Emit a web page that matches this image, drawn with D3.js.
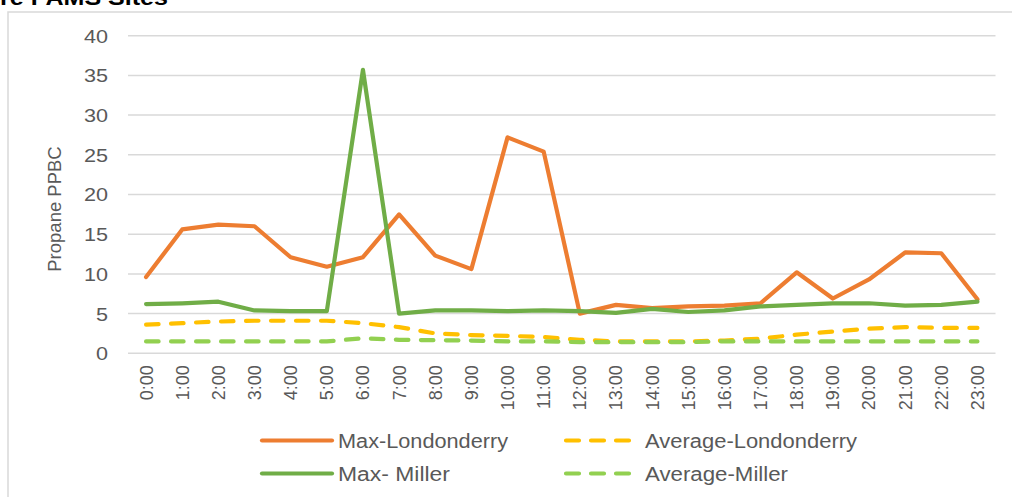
<!DOCTYPE html>
<html>
<head>
<meta charset="utf-8">
<script src="https://cdn.jsdelivr.net/npm/d3@7"></script>
<style>
  html, body { margin: 0; padding: 0; background: #fff; }
  svg { display: block; }
  text { font-family: "Liberation Sans", Arial, sans-serif; }
</style>
</head>
<body>
<svg id="chart" width="1012" height="497"></svg>
<script>
const hours = ["0:00","1:00","2:00","3:00","4:00","5:00","6:00","7:00","8:00","9:00","10:00","11:00",
               "12:00","13:00","14:00","15:00","16:00","17:00","18:00","19:00","20:00","21:00","22:00","23:00"];
const maxLondonderry = [9.6,15.6,16.2,16.0,12.1,10.9,12.1,17.5,12.3,10.6,27.2,25.4,5.0,6.1,5.7,5.9,6.0,6.3,10.2,6.9,9.3,12.7,12.6,6.8];
const avgLondonderry = [3.6,3.8,4.0,4.1,4.1,4.1,3.8,3.3,2.5,2.3,2.2,2.05,1.7,1.5,1.5,1.5,1.6,1.85,2.35,2.75,3.1,3.3,3.2,3.2];
const maxMiller = [6.2,6.3,6.5,5.4,5.3,5.3,35.7,5.0,5.4,5.4,5.3,5.4,5.3,5.1,5.6,5.2,5.4,5.9,6.1,6.3,6.3,6.0,6.1,6.5];
const avgMiller = [1.5,1.5,1.5,1.5,1.5,1.5,1.9,1.7,1.65,1.6,1.5,1.5,1.4,1.4,1.4,1.4,1.5,1.5,1.5,1.5,1.5,1.5,1.5,1.5];
const yTicks = [0,5,10,15,20,25,30,35,40];
const seriesNames = ["Max-Londonderry","Average-Londonderry","Max- Miller","Average-Miller"];
const titleText = "re PAMS Sites";
const yTitle = "Propane PPBC";

const series = [
  {name: seriesNames[0], values: maxLondonderry, color: "#ED7D31", dash: null},
  {name: seriesNames[1], values: avgLondonderry, color: "#FFC000", dash: "12.5,12.5"},
  {name: seriesNames[2], values: maxMiller, color: "#70AD47", dash: null},
  {name: seriesNames[3], values: avgMiller, color: "#92D050", dash: "12.5,12.5"}
];

const svg = d3.select("#chart");
const plotL = 128, plotR = 995.5, plotT = 35.7, plotB = 353.3;

const x = d3.scaleBand().domain(hours).range([plotL, plotR]).padding(0);
const y = d3.scaleLinear().domain([0, 40]).range([plotB, plotT]);
const cx = h => x(h) + x.bandwidth() / 2;

// chart border
svg.append("rect").attr("x", 8).attr("y", 12).attr("width", 1100).attr("height", 600)
  .attr("fill", "none").attr("stroke", "#d9d9d9").attr("stroke-width", 1.5);

// title (clipped at top)
svg.append("text").attr("x", 0).attr("y", 4.5)
  .attr("font-size", 22).attr("font-weight", "bold").attr("fill", "#000")
  .attr("textLength", 168).attr("lengthAdjust", "spacingAndGlyphs")
  .text(titleText);

// gridlines
svg.append("g").selectAll("line").data(yTicks).join("line")
  .attr("x1", plotL).attr("x2", plotR)
  .attr("y1", d => y(d)).attr("y2", d => y(d))
  .attr("stroke", "#d9d9d9").attr("stroke-width", 1.5);

// y axis labels
const yAxis = svg.append("g").attr("transform", `translate(${plotL},0)`)
  .call(d3.axisLeft(y).tickValues(yTicks).tickSize(0).tickPadding(0));
yAxis.select(".domain").remove();
yAxis.selectAll("text")
  .attr("x", -20 / 1.2).attr("dy", "0.36em")
  .attr("transform", "scale(1.2,1)")
  .attr("font-size", 18).attr("fill", "#595959")
  .attr("font-family", "'Liberation Sans', Arial, sans-serif");

// x axis labels
const xAxis = svg.append("g").attr("transform", `translate(0,${plotB})`)
  .call(d3.axisBottom(x).tickSize(0).tickPadding(0));
xAxis.select(".domain").remove();
xAxis.selectAll("text")
  .attr("transform", "rotate(-90)")
  .attr("text-anchor", "end")
  .attr("x", -12).attr("y", 0).attr("dy", "0.36em")
  .attr("font-size", 18).attr("fill", "#595959")
  .attr("font-family", "'Liberation Sans', Arial, sans-serif");

// y title
svg.append("text")
  .attr("transform", `translate(61,209) rotate(-90)`)
  .attr("text-anchor", "middle")
  .attr("font-size", 18.5).attr("fill", "#595959")
  .text(yTitle);

// lines
const line = vals => d3.line().x((d, i) => cx(hours[i])).y(d => y(d))(vals);
svg.append("g").selectAll("path").data(series).join("path")
  .attr("d", d => line(d.values))
  .attr("fill", "none")
  .attr("stroke", d => d.color)
  .attr("stroke-width", 4.2)
  .attr("stroke-linejoin", "round")
  .attr("stroke-linecap", "round")
  .attr("stroke-dasharray", d => d.dash);

// legend
const legendPos = [
  {lx: 262, tx: 338, ty: 440.5, tl: 170},
  {lx: 566, tx: 645, ty: 440.5, tl: 212},
  {lx: 262, tx: 338, ty: 473.5, tl: 112},
  {lx: 566, tx: 645, ty: 473.5, tl: 143}
];
const lg = svg.append("g").selectAll("g").data(series).join("g");
lg.append("line")
  .attr("x1", (d, i) => legendPos[i].lx)
  .attr("x2", (d, i) => legendPos[i].lx + 70)
  .attr("y1", (d, i) => legendPos[i].ty)
  .attr("y2", (d, i) => legendPos[i].ty)
  .attr("stroke", d => d.color).attr("stroke-width", 4.2)
  .attr("stroke-linecap", "round")
  .attr("stroke-dasharray", d => d.dash ? "13,12" : null);
lg.append("text")
  .attr("x", (d, i) => legendPos[i].tx)
  .attr("y", (d, i) => legendPos[i].ty)
  .attr("dy", "0.36em")
  .attr("font-size", 20).attr("fill", "#595959")
  .attr("textLength", (d, i) => legendPos[i].tl)
  .attr("lengthAdjust", "spacingAndGlyphs")
  .text(d => d.name);
</script>
</body>
</html>
